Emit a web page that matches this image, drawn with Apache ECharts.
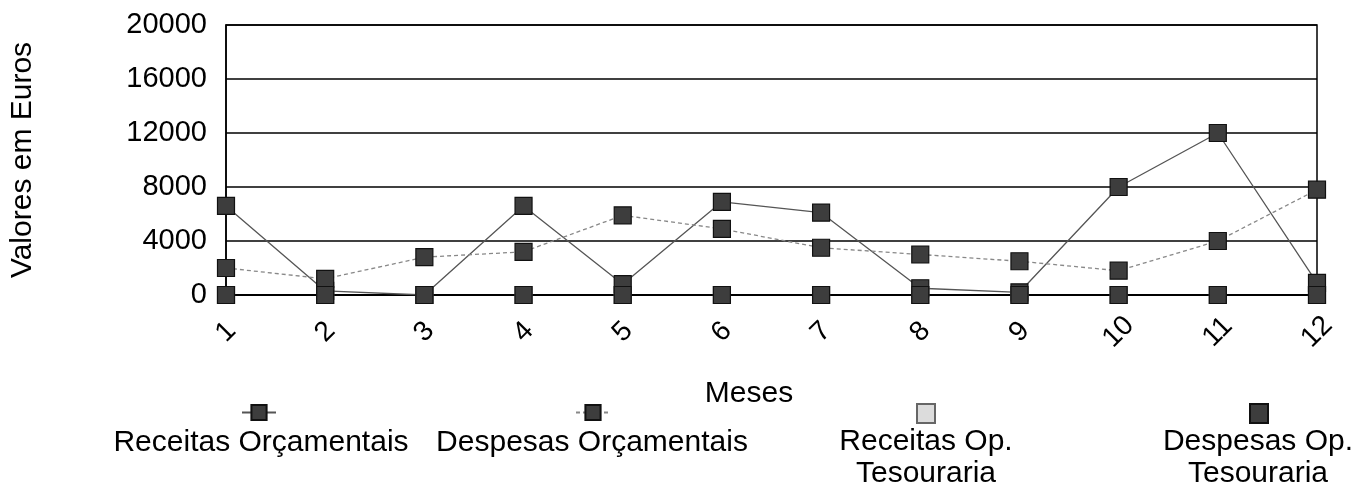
<!DOCTYPE html>
<html>
<head>
<meta charset="utf-8">
<script src="https://cdn.jsdelivr.net/npm/echarts@6/dist/echarts.min.js"></script>
<style>html,body{margin:0;padding:0;background:#fff}#c{width:1359px;height:495px}</style>
</head>
<body>
<div id="c"></div>
<script>
var months = ['1','2','3','4','5','6','7','8','9','10','11','12'];
var yTicks = [0, 4000, 8000, 12000, 16000, 20000];
var receitasOrcamentais = [6600, 300, 0, 6600, 800, 6900, 6100, 500, 200, 8000, 12000, 900];
var despesasOrcamentais = [2000, 1200, 2800, 3200, 5900, 4900, 3500, 3000, 2500, 1800, 4000, 7800];
var receitasOpTesouraria = [0, 0, 0, 0, 0, 0, 0, 0, 0, 0, 0, 0];
var despesasOpTesouraria = [0, 0, 0, 0, 0, 0, 0, 0, 0, 0, 0, 0];
var seriesNames = ['Receitas Orçamentais', 'Despesas Orçamentais', 'Receitas Op. Tesouraria', 'Despesas Op. Tesouraria'];
var legendLabels = ['Receitas Orçamentais', 'Despesas Orçamentais', 'Receitas Op.\nTesouraria', 'Despesas Op.\nTesouraria'];

var FONT = '"Liberation Sans", Arial, sans-serif';
var chart = echarts.init(document.getElementById('c'), null, {renderer: 'canvas'});

var darkMarker = {color: '#3d3d3d', borderColor: '#111', borderWidth: 1.2};
var lightMarker = {color: '#dcdcdc', borderColor: '#666', borderWidth: 1.2};

var legendX = [258, 592, 925, 1258];
var legends = [
  {data: [{name: seriesNames[0]}], left: legendX[0] - 17, top: 403, itemWidth: 34, itemHeight: 19},
  {data: [{name: seriesNames[1]}], left: legendX[1] - 17, top: 403, itemWidth: 34, itemHeight: 19},
  {data: [{name: seriesNames[2], icon: 'rect'}], left: legendX[2] - 9, top: 403, itemWidth: 18, itemHeight: 19},
  {data: [{name: seriesNames[3], icon: 'rect'}], left: legendX[3] - 9, top: 403, itemWidth: 18, itemHeight: 19}
].map(function (l) {
  return Object.assign({padding: 0, itemGap: 0, formatter: function () { return ''; }, selectedMode: false, textStyle: {fontSize: 1}}, l);
});

var graphics = [
  {type: 'text', x: 261, y: 443, style: {text: legendLabels[0], font: '30px ' + FONT, fill: '#000', textAlign: 'center', textVerticalAlign: 'middle'}},
  {type: 'text', x: 592, y: 443, style: {text: legendLabels[1], font: '30px ' + FONT, fill: '#000', textAlign: 'center', textVerticalAlign: 'middle'}},
  {type: 'text', x: 926, y: 458, style: {text: legendLabels[2], font: '30px ' + FONT, fill: '#000', textAlign: 'center', textVerticalAlign: 'middle', lineHeight: 32}},
  {type: 'text', x: 1258, y: 458, style: {text: legendLabels[3], font: '30px ' + FONT, fill: '#000', textAlign: 'center', textVerticalAlign: 'middle', lineHeight: 32}},
  {type: 'text', x: 749, y: 394, style: {text: 'Meses', font: '30px ' + FONT, fill: '#000', textAlign: 'center', textVerticalAlign: 'middle'}}
];

var option = {
  backgroundColor: '#fff',
  animation: false,
  grid: {left: 224, right: 42, top: 25, bottom: 200, show: true, borderColor: '#000', borderWidth: 1.5, backgroundColor: 'transparent'},
  legend: legends,
  graphic: graphics,
  xAxis: {
    type: 'category',
    data: months,
    boundaryGap: false,
    axisLine: {lineStyle: {color: '#000', width: 2}},
    axisTick: {show: false},
    axisLabel: {fontFamily: FONT, fontSize: 28, color: '#000', rotate: 45, align: 'center', verticalAlign: 'middle', margin: 37},
    splitLine: {show: false}
  },
  yAxis: {
    type: 'value',
    min: yTicks[0],
    max: yTicks[yTicks.length - 1],
    interval: 4000,
    name: 'Valores em Euros',
    nameLocation: 'middle',
    nameRotate: 90,
    nameGap: 188,
    nameTextStyle: {fontFamily: FONT, fontSize: 30, color: '#000'},
    axisLine: {show: true, lineStyle: {color: '#000', width: 1.5}},
    axisTick: {show: false},
    axisLabel: {fontFamily: FONT, fontSize: 29, color: '#000', margin: 19, formatter: function (v) { return String(v); }},
    splitLine: {lineStyle: {color: '#000', width: 1.5}}
  },
  series: [
    {name: seriesNames[0], type: 'line', data: receitasOrcamentais, symbol: 'rect', symbolSize: 17,
     lineStyle: {color: '#555', width: 1.3, type: 'solid'}, itemStyle: darkMarker, z: 3},
    {name: seriesNames[1], type: 'line', data: despesasOrcamentais, symbol: 'rect', symbolSize: 17,
     lineStyle: {color: '#888', width: 1.3, type: [4, 3]}, itemStyle: darkMarker, z: 3},
    {name: seriesNames[2], type: 'line', data: receitasOpTesouraria, symbol: 'rect', symbolSize: 17,
     lineStyle: {width: 0, opacity: 0}, itemStyle: lightMarker, z: 4},
    {name: seriesNames[3], type: 'line', data: despesasOpTesouraria, symbol: 'rect', symbolSize: 17,
     lineStyle: {width: 0, opacity: 0}, itemStyle: darkMarker, z: 5}
  ]
};
chart.setOption(option);
</script>
</body>
</html>
